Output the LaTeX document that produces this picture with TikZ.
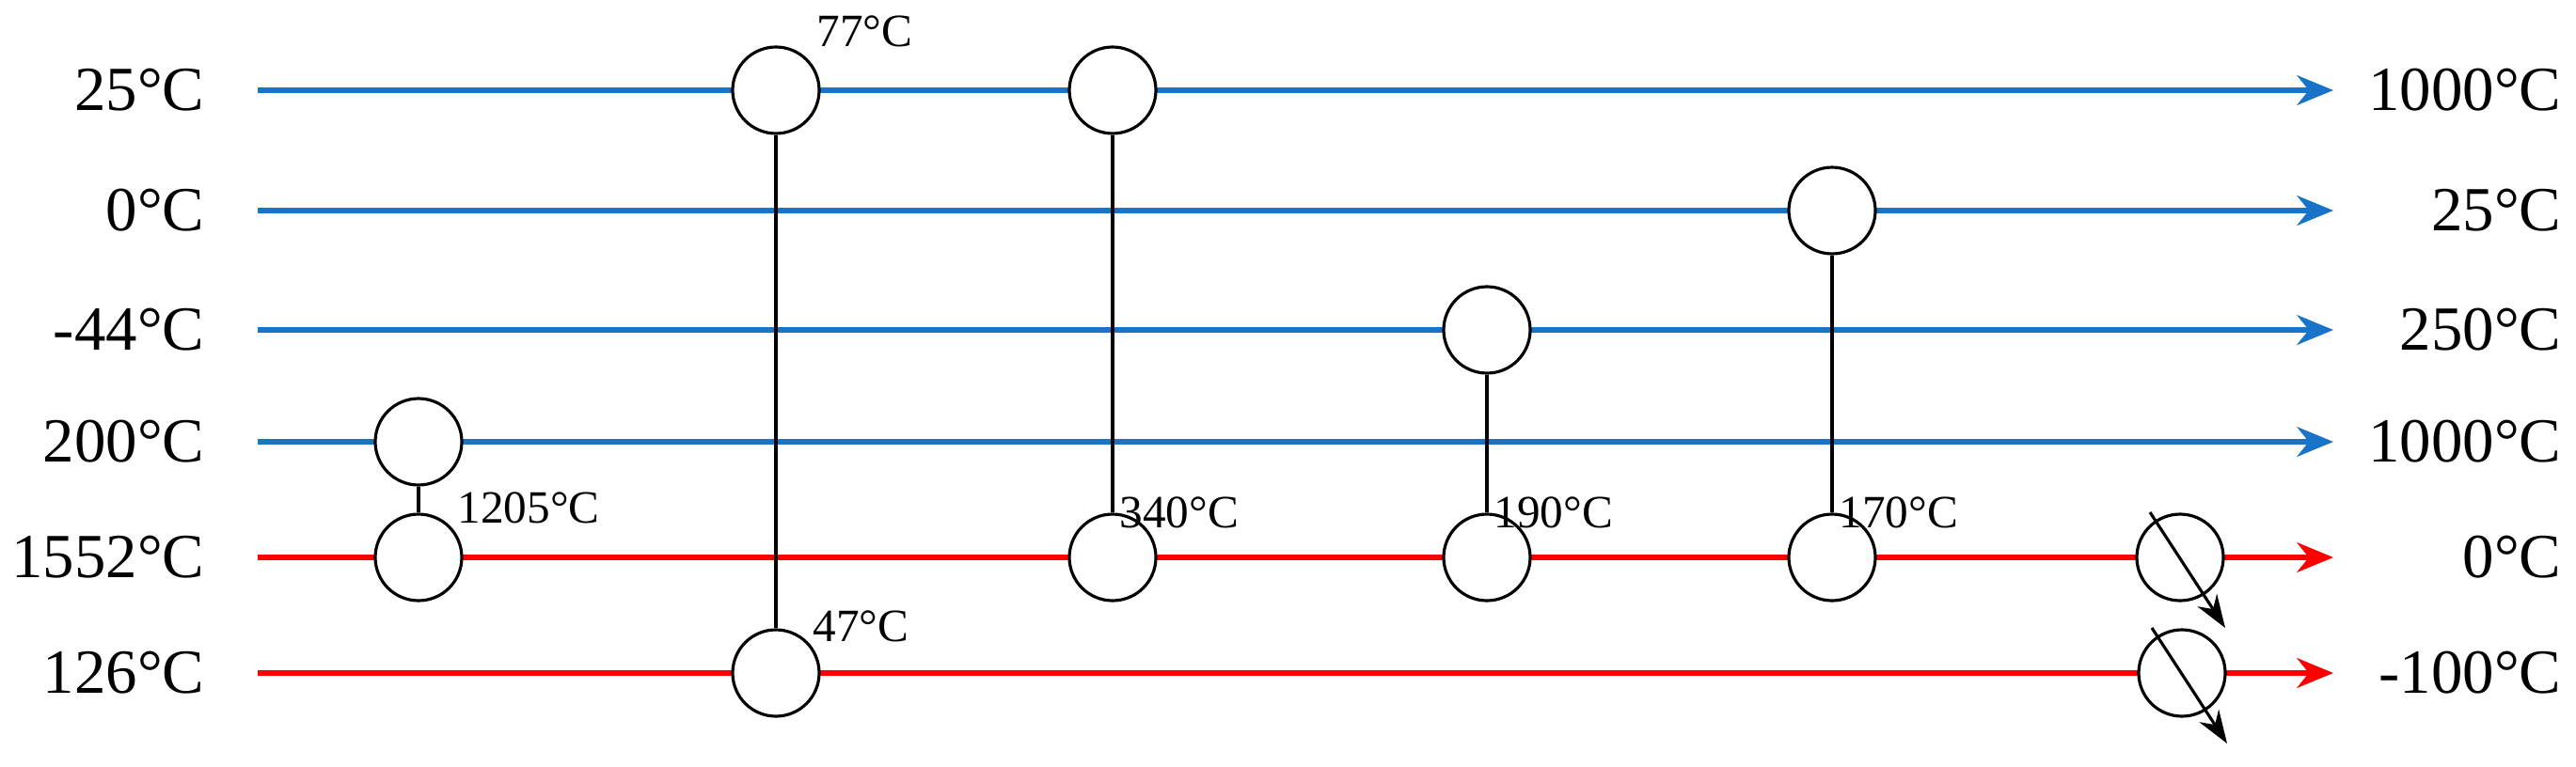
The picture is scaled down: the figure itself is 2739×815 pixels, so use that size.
\documentclass[tikz,border=0pt]{standalone}
\usepackage{fontspec}
\setmainfont{Liberation Serif}
\usetikzlibrary{arrows.meta}
\definecolor{cold}{RGB}{25,115,200}
\definecolor{hot}{RGB}{255,0,0}
\tikzset{
  hx/.style={circle,draw,fill=white,line width=0.9pt,minimum size=92*0.01cm,inner sep=0pt},
  stream/.style={line width=1.5pt,-{Stealth[length=11pt,width=9pt]}},
  lbl/.style={font=\fontsize{19}{22}\selectfont,anchor=east,inner sep=0pt},
  tl/.style={font=\fontsize{14}{16}\selectfont,anchor=west,inner sep=0pt},
  link/.style={line width=0.9pt}
}
\begin{document}
\begin{tikzpicture}[x=0.01cm,y=-0.01cm]
\useasboundingbox (0,0) rectangle (2739,815);
% stream ends
\foreach \n/\y in {1/96,2/224,3/351,4/470,5/593,6/716}{
  \coordinate (s\n) at (274,\y);
  \coordinate (e\n) at (2481,\y);
}
\foreach \n in {1,2,3,4}{\draw[stream,cold] (s\n) -- (e\n);}
\foreach \n in {5,6}{\draw[stream,hot] (s\n) -- (e\n);}
% left labels
\node[lbl] (l1) at (218,96) {25°C};
\node[lbl] (l2) at (218,224) {0°C};
\node[lbl] (l3) at (218,351) {-44°C};
\node[lbl] (l4) at (218,470) {200°C};
\node[lbl] (l5) at (218,593) {1552°C};
\node[lbl] (l6) at (218,716) {126°C};
% right labels
\node[lbl] (r1) at (2724,96) {1000°C};
\node[lbl] (r2) at (2724,224) {25°C};
\node[lbl] (r3) at (2724,351) {250°C};
\node[lbl] (r4) at (2724,470) {1000°C};
\node[lbl] (r5) at (2724,593) {0°C};
\node[lbl] (r6) at (2724,716) {-100°C};
% exchangers
\node[hx] (a1) at (825,96) {};
\node[hx] (a6) at (825,716) {};
\node[hx] (b1) at (1183,96) {};
\node[hx] (b5) at (1183,593) {};
\node[hx] (c3) at (1581,351) {};
\node[hx] (c5) at (1581,593) {};
\node[hx] (d2) at (1948,224) {};
\node[hx] (d5) at (1948,593) {};
\node[hx] (f4) at (445,470) {};
\node[hx] (f5) at (445,593) {};
\draw[link] (a1) -- (a6);
\draw[link] (b1) -- (b5);
\draw[link] (c3) -- (c5);
\draw[link] (d2) -- (d5);
\draw[link] (f4) -- (f5);
% coolers
\node[hx] (k5) at (2318,593) {};
\node[hx] (k6) at (2320,716) {};
\coordinate (k5a) at (2286,545); \coordinate (k5b) at (2366,668);
\coordinate (k6a) at (2288,668); \coordinate (k6b) at (2368,791);
\draw[link,-{Stealth[length=10pt,width=7pt]}] (k5a) -- (k5b);
\draw[link,-{Stealth[length=10pt,width=7pt]}] (k6a) -- (k6b);
% temperature labels
\node[tl] (t1) at (868,33) {77°C};
\node[tl] (t2) at (486,540) {1205°C};
\node[tl] (t3) at (1190,545) {340°C};
\node[tl] (t4) at (1588,545) {190°C};
\node[tl] (t5) at (1955,545) {170°C};
\node[tl] (t6) at (864,666) {47°C};
\end{tikzpicture}
\end{document}
